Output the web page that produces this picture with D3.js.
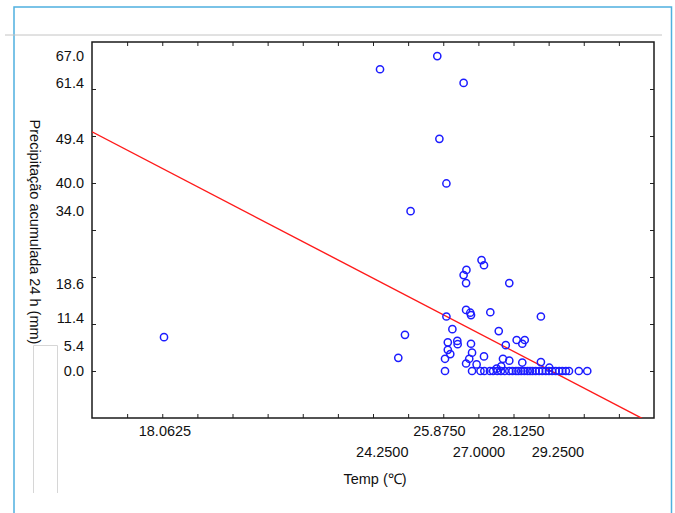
<!DOCTYPE html>
<html><head><meta charset="utf-8">
<script src="https://cdn.jsdelivr.net/npm/d3@7"></script>
<style>
html,body{margin:0;padding:0;background:#fff;}
svg{display:block;font-family:"Liberation Sans",Arial,sans-serif;}
</style></head>
<body>
<svg id="chart" width="675" height="513"></svg>
<script>
// ---- data ----
const temp = [18.05, 24.20, 25.83, 26.58, 25.89, 26.09, 25.07, 24.91, 24.72,
  27.09, 27.16, 26.66, 26.58, 26.65, 27.88, 26.65, 26.77, 26.79, 27.34, 28.78, 26.09,
  26.26, 27.58, 28.09, 28.32, 28.25, 26.13, 26.40, 26.41, 26.79, 27.78, 26.13, 26.20,
  26.05, 26.82, 26.74, 27.16, 27.70, 27.88, 26.65, 26.95, 28.25, 28.78, 27.65, 27.52, 29.02,
  26.05, 26.82, 27.06, 27.17, 27.33, 27.42, 27.54, 27.64, 27.75, 27.88, 27.97, 28.07,
  28.14, 28.22, 28.31, 28.40, 28.47, 28.54, 28.63, 28.73, 28.82, 28.92, 29.01, 29.10,
  29.20, 29.30, 29.39, 29.49, 29.58, 29.86, 30.10];
const precip = [7.2, 64.2, 67.0, 61.3, 49.4, 39.9, 34.0, 7.7, 2.8,
  23.6, 22.5, 21.5, 20.4, 18.7, 18.7, 13.0, 12.4, 11.9, 12.5, 11.6, 11.6,
  8.9, 8.5, 6.6, 6.6, 5.8, 6.1, 6.4, 5.7, 5.8, 5.5, 4.5, 3.6,
  2.6, 3.9, 2.6, 3.1, 2.6, 2.2, 1.6, 1.4, 1.8, 1.9, 1.0, 0.5, 0.7,
  0, 0, 0, 0, 0, 0, 0, 0, 0, 0, 0, 0,
  0, 0, 0, 0, 0, 0, 0, 0, 0, 0, 0, 0,
  0, 0, 0, 0, 0, 0, 0];
// fitted regression line endpoints (temp, precip)
const fitTemp = [16, 32];
const fitPrecip = [50.9, -11.4];
// tick labels
const xLabelsRow1 = [18.0625, 25.875, 28.125];
const xLabelsRow2 = [24.25, 27.0, 29.25];
const yLabels = [67.0, 61.4, 49.4, 40.0, 34.0, 18.6, 11.4, 5.4, 0.0];
const xMinorTicks = d3.range(17, 32, 1);
const yMinorTicks = d3.range(-10, 71, 10).filter(v => v > -10 && v < 70);

// ---- layout ----
const svg = d3.select("#chart");
const L = 92, R = 654, T = 42, B = 418;
const FS = 14.5;
const x = d3.scaleLinear().domain([16, 32]).range([L, R]);
const y = d3.scaleLinear().domain([-10, 70]).range([B, T]);

// decorative page elements
svg.append("rect").attr("x", 14).attr("y", 7).attr("width", 657.5).attr("height", 520)
  .attr("fill", "none").attr("stroke", "#4fb0df").attr("stroke-width", 1.5);
svg.append("line").attr("x1", 5).attr("x2", 662).attr("y1", 35).attr("y2", 35)
  .attr("stroke", "#c4c4c4").attr("stroke-width", 1);
svg.append("path").attr("d", "M33.5,493 V345.5 H57.5 V493")
  .attr("fill", "none").attr("stroke", "#d6d6d6").attr("stroke-width", 1);

// clip
svg.append("clipPath").attr("id", "clip").append("rect")
  .attr("x", L).attr("y", T).attr("width", R - L).attr("height", B - T);

// axes (minor ticks, inward)
const tickStyle = g => { g.select(".domain").remove(); g.selectAll("line").attr("stroke", "#222").attr("stroke-width", 1); };
svg.append("g").attr("transform", `translate(0,${B})`)
  .call(d3.axisBottom(x).tickValues(xMinorTicks).tickSize(-4).tickFormat("")).call(tickStyle);
svg.append("g").attr("transform", `translate(0,${T})`)
  .call(d3.axisTop(x).tickValues(xMinorTicks).tickSize(-4).tickFormat("")).call(tickStyle);
svg.append("g").attr("transform", `translate(${L},0)`)
  .call(d3.axisLeft(y).tickValues(yMinorTicks).tickSize(-4).tickFormat("")).call(tickStyle);
svg.append("g").attr("transform", `translate(${R},0)`)
  .call(d3.axisRight(y).tickValues(yMinorTicks).tickSize(-4).tickFormat("")).call(tickStyle);

// labels
const labStyle = g => { g.select(".domain").remove(); g.selectAll("line").remove();
  g.selectAll("text").attr("fill", "#111").attr("font-size", FS).attr("font-family", "Liberation Sans, Arial, sans-serif"); };
svg.append("g").attr("transform", `translate(0,${B + 5})`)
  .call(d3.axisBottom(x).tickValues(xLabelsRow1).tickSize(0).tickFormat(d3.format(".4f"))).call(labStyle);
svg.append("g").attr("transform", `translate(0,${B + 26})`)
  .call(d3.axisBottom(x).tickValues(xLabelsRow2).tickSize(0).tickFormat(d3.format(".4f"))).call(labStyle);
svg.append("g").attr("transform", `translate(${L - 5},0)`)
  .call(d3.axisLeft(y).tickValues(yLabels).tickSize(0).tickFormat(d3.format(".1f"))).call(labStyle);

// frame
svg.append("rect").attr("x", L).attr("y", T).attr("width", R - L).attr("height", B - T)
  .attr("fill", "none").attr("stroke", "#1a1a1a").attr("stroke-width", 1.5);

// regression line
svg.append("path").datum(fitTemp.map((t, i) => [t, fitPrecip[i]]))
  .attr("clip-path", "url(#clip)")
  .attr("d", d3.line().x(d => x(d[0])).y(d => y(d[1])))
  .attr("fill", "none").attr("stroke", "#ff1a1a").attr("stroke-width", 1.4);

// points
svg.append("g").selectAll("circle").data(temp.map((t, i) => [t, precip[i]])).join("circle")
  .attr("cx", d => x(d[0])).attr("cy", d => y(d[1])).attr("r", 3.6)
  .attr("fill", "none").attr("stroke", "#1c1cff").attr("stroke-width", 1.5);

// axis titles
svg.append("text").attr("x", 375).attr("y", 480).attr("text-anchor", "middle")
  .attr("dominant-baseline", "middle").attr("font-size", FS).attr("fill", "#111")
  .text("Temp (℃)");
svg.append("text").attr("transform", "translate(34,232) rotate(90)").attr("text-anchor", "middle")
  .attr("dominant-baseline", "middle").attr("font-size", FS).attr("fill", "#111")
  .text("Precipitação acumulada 24 h (mm)");
</script>
</body></html>
